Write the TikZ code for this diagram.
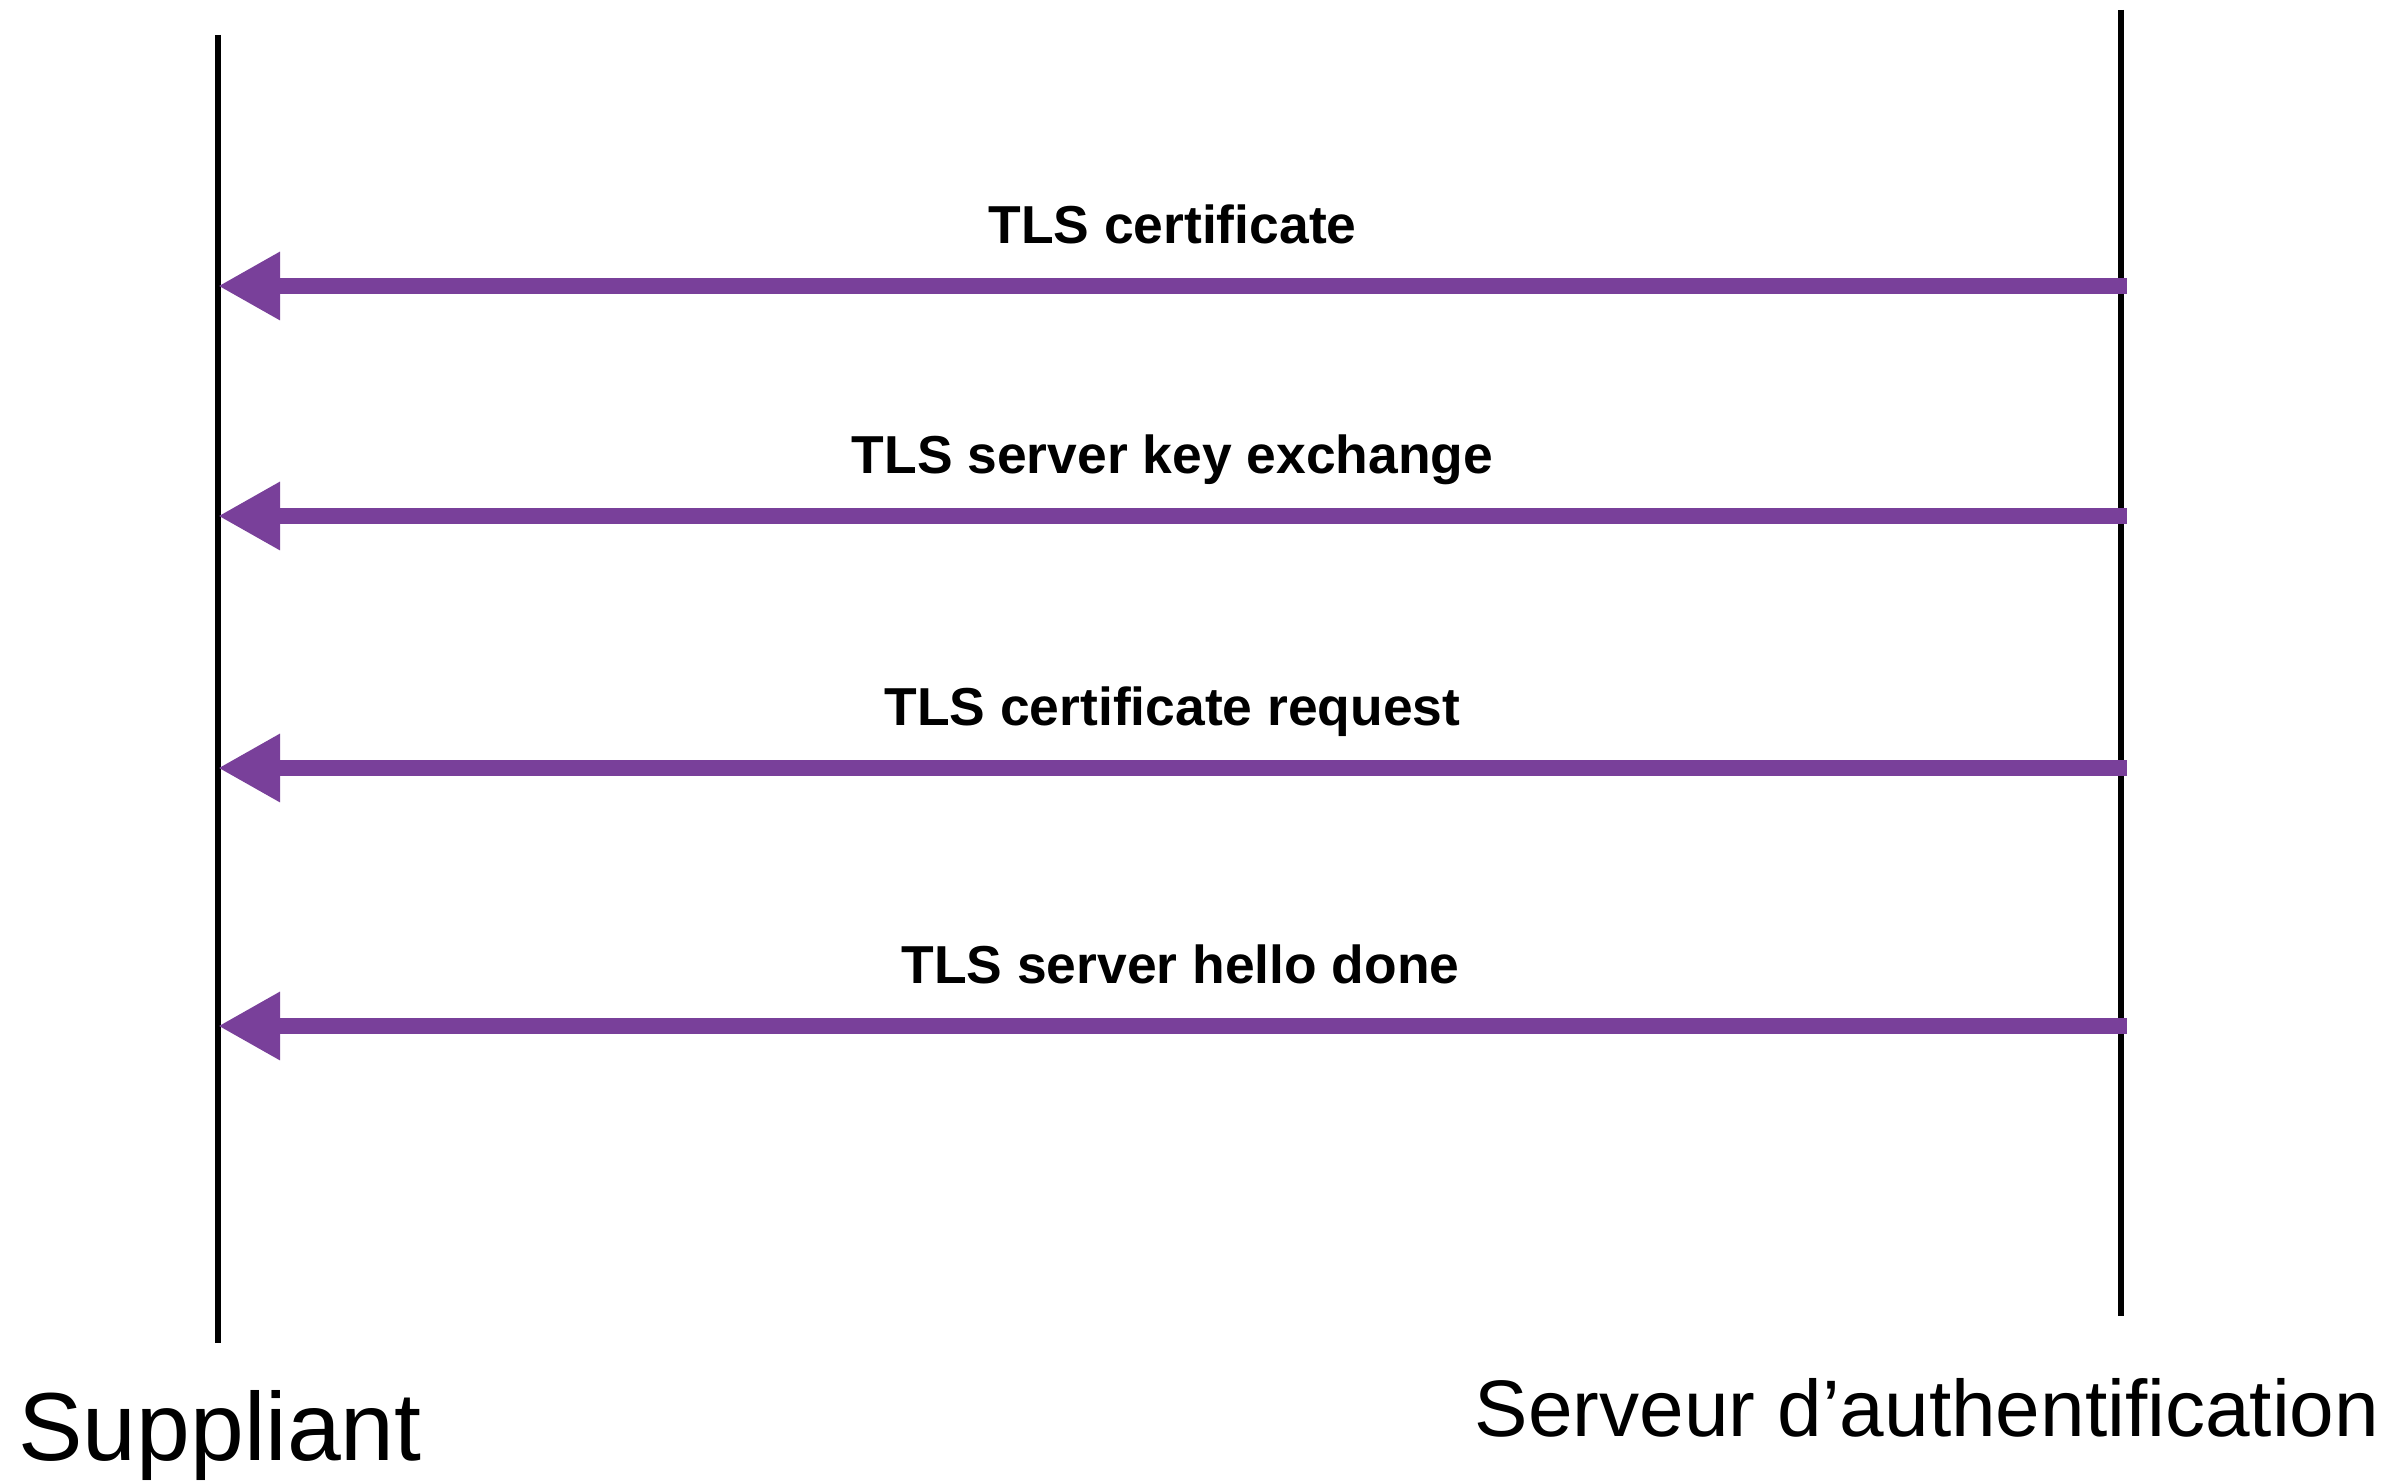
\documentclass[tikz,border=0pt]{standalone}
\usepackage{fontspec}
\setmainfont{Liberation Sans}
\usepackage{tikz}
\usepackage{xcolor}
\usetikzlibrary{positioning, arrows.meta}
\definecolor{msgpurple}{RGB}{121,64,154}

\begin{document}
\begin{tikzpicture}[
    lifeline/.style={draw=black, line width=0.055cm},
    actor/.style={inner sep=0, anchor=base},
    msg/.style={font=\fontsize{15.2}{18}\selectfont\bfseries, inner sep=0, anchor=base, yshift=0.42cm},
    arrow/.style={draw=msgpurple, line width=0.16cm, -{Triangle[length=0.62cm, width=0.64cm]}}
]
\useasboundingbox (0,0) rectangle (24.08,-14.82);

% ========== LIGNES DE VIE ==========
\coordinate (suppTop) at (2.18,-0.35);
\coordinate (suppBot) at (2.18,-13.43);
\coordinate (servTop) at (21.21,-0.10);
\coordinate (servBot) at (21.21,-13.16);
\draw[lifeline] (suppTop) -- (suppBot);
\draw[lifeline] (servTop) -- (servBot);

% Noms des acteurs
\node[actor, font=\fontsize{27.5}{33}\selectfont] (supp) at (2.20,-14.60) {Suppliant};
\node[actor, font=\fontsize{22.8}{27}\selectfont] (serv) at (19.27,-14.36) {Serveur d’authentification};

% ========== MESSAGES ==========
\coordinate (m1from) at (21.27,-2.86);
\coordinate (m1to) at (2.18,-2.86);
\coordinate (m2from) at (21.27,-5.16);
\coordinate (m2to) at (2.18,-5.16);
\coordinate (m3from) at (21.27,-7.68);
\coordinate (m3to) at (2.18,-7.68);
\coordinate (m4from) at (21.27,-10.26);
\coordinate (m4to) at (2.18,-10.26);

\draw[arrow] (m1from) -- node[msg, midway] (m1) {TLS certificate} (m1to);
\draw[arrow] (m2from) -- node[msg, midway] (m2) {TLS server key exchange} (m2to);
\draw[arrow] (m3from) -- node[msg, midway] (m3) {TLS certificate request} (m3to);
\draw[arrow] (m4from) -- node[msg, midway, xshift=0.08cm] (m4) {TLS server hello done} (m4to);

\end{tikzpicture}
\end{document}
